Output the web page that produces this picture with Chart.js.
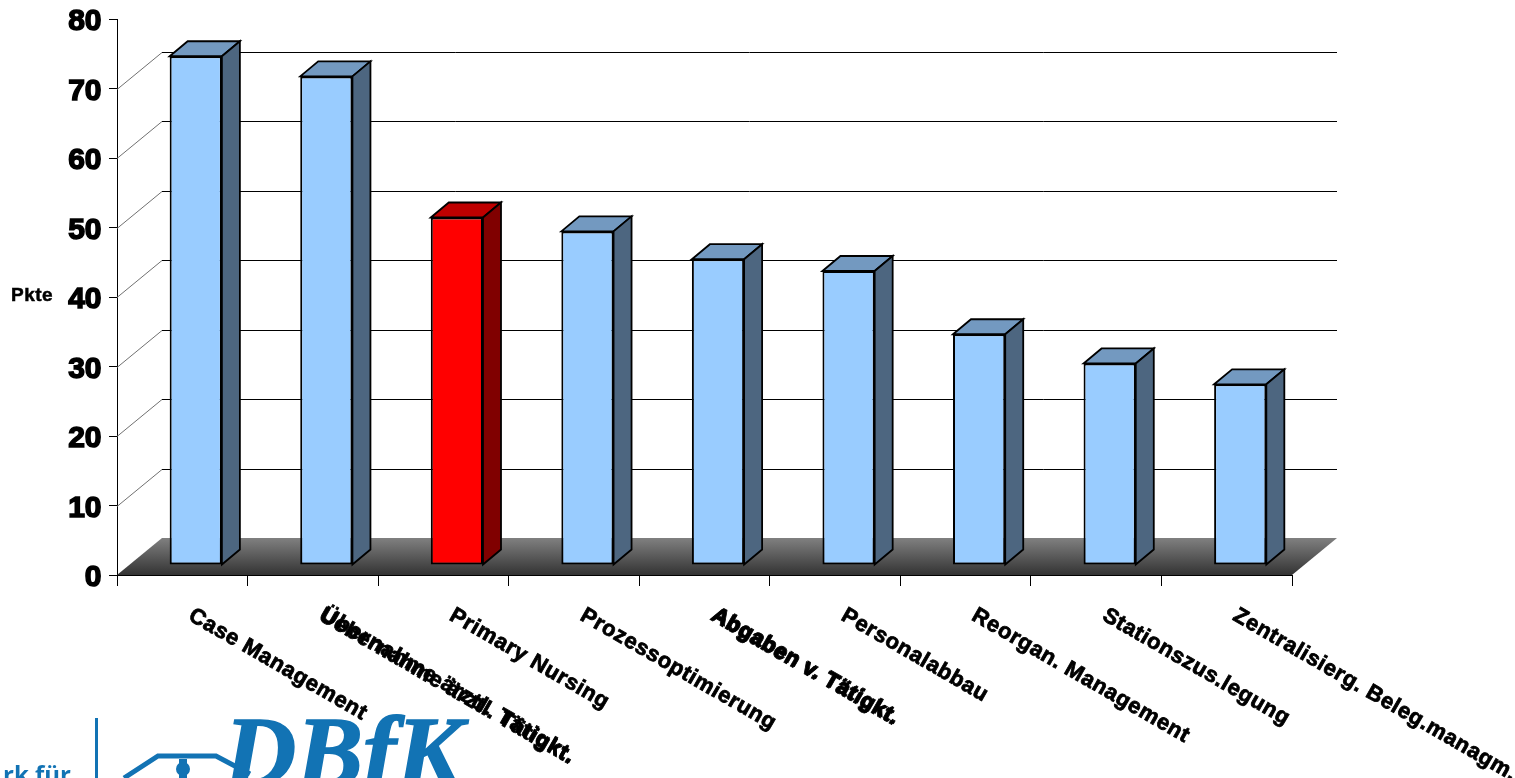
<!DOCTYPE html>
<html>
<head>
<meta charset="utf-8">
<title>Pkte</title>
<script src="https://cdn.jsdelivr.net/npm/chart.js@4"></script>
<style>
html,body{margin:0;padding:0;background:#fff;overflow:hidden;}
canvas{display:block;}
</style>
</head>
<body>
<canvas id="myChart" width="1515" height="778"></canvas>
<script>
const categories = ["Case Management","Uebernahme ärztl. Tätigkt.","Primary Nursing","Prozessoptimierung","Abgaben v. Tätigkt.","Personalabbau","Reorgan. Management","Stationszus.legung","Zentralisierg. Beleg.managm."];
// the second text printed on top of a label, as it is in the picture
const overprints = [null,"Übernahme ärztl. Tätigkt.",null,null,"Abgaben v. Tätigkt.",null,null,null,null];
const values = [73.2,70.3,50,48,44,42.3,33.2,29,26];
const frontColors = ["#99ccff","#99ccff","#ff0000","#99ccff","#99ccff","#99ccff","#99ccff","#99ccff","#99ccff"];
const topColors = ["#7399c0","#7399c0","#bf0000","#7399c0","#7399c0","#7399c0","#7399c0","#7399c0","#7399c0"];
const sideColors = ["#4d6680","#4d6680","#800000","#4d6680","#4d6680","#4d6680","#4d6680","#4d6680","#4d6680"];
const yMax = 80;
const yStep = 10;

const FONT = "'Liberation Sans', Arial, sans-serif";
const wall = {dx:45, dy:-37};   // back wall offset of the fake 3D box
const depth = {dx:18, dy:-15};  // depth of a bar
const barShift = {dx:13.5, dy:-10}; // bars stand in the middle of the floor

function poly(ctx, pts, fill, stroke, lw){
    ctx.beginPath();
    pts.forEach((p,i)=> i ? ctx.lineTo(p[0],p[1]) : ctx.moveTo(p[0],p[1]));
    ctx.closePath();
    if(fill){ ctx.fillStyle=fill; ctx.fill(); }
    if(stroke){ ctx.strokeStyle=stroke; ctx.lineWidth=lw; ctx.lineJoin='miter'; ctx.stroke(); }
}

const box3d = {
    id:'box3d',
    beforeDatasetsDraw(chart){
        const {ctx, scales:{y}, chartArea:a} = chart;
        ctx.save();
        // back wall lines
        for(let v=yStep; v<yMax; v+=yStep){
            const py=Math.round(y.getPixelForValue(v))+0.5;
            ctx.beginPath();
            ctx.strokeStyle='#707070';
            ctx.lineWidth=1;
            ctx.moveTo(a.left,py);
            ctx.lineTo(a.left+wall.dx,py+wall.dy);
            ctx.stroke();
            ctx.beginPath();
            ctx.strokeStyle='#000';
            ctx.moveTo(a.left+wall.dx,py+wall.dy);
            ctx.lineTo(a.right+wall.dx,py+wall.dy);
            ctx.stroke();
        }
        // floor
        const y0=y.getPixelForValue(0);
        const g=ctx.createLinearGradient(0,y0+wall.dy,0,y0);
        g.addColorStop(0,'#808080');
        g.addColorStop(1,'#333333');
        poly(ctx,[[a.left,y0],[a.left+wall.dx,y0+wall.dy],[a.right+wall.dx,y0+wall.dy],[a.right,y0]],g);
        ctx.restore();
    },
    beforeDatasetDraw(chart){
        const ctx=chart.ctx;
        ctx.save();
        ctx.translate(barShift.dx,barShift.dy);
    },
    afterDatasetDraw(chart,args){
        const ctx=chart.ctx;
        args.meta.data.forEach((bar,i)=>{
            const l=bar.x-bar.width/2, r=bar.x+bar.width/2, t=bar.y, b=bar.base;
            poly(ctx,[[l,t],[l+depth.dx,t+depth.dy],[r+depth.dx,t+depth.dy],[r,t]],topColors[i],'#000',1.8);
            poly(ctx,[[r,t],[r+depth.dx,t+depth.dy],[r+depth.dx,b+depth.dy],[r,b]],sideColors[i],'#000',1.8);
        });
        ctx.restore();
    },
    afterDraw(chart){
        const {ctx, scales:{x}, chartArea:a} = chart;
        ctx.save();
        // y axis unit
        ctx.fillStyle='#000';
        ctx.strokeStyle='#000';
        ctx.lineWidth=0.5;
        ctx.font='bold 19px '+FONT;
        ctx.letterSpacing='0.5px';
        ctx.textAlign='left';
        ctx.textBaseline='middle';
        ctx.fillText('Pkte',11,296);
        ctx.strokeText('Pkte',11,296);
        // category labels run down to the right, the scale can't anchor them at their start
        ctx.lineWidth=0.8;
        ctx.font='bold 22px '+FONT;
        categories.forEach((name,i)=>{
            ctx.save();
            ctx.letterSpacing='0.6px';
            const w=ctx.measureText(name).width;
            ctx.translate(x.getPixelForValue(i)+8,a.bottom+39);
            ctx.rotate(30*Math.PI/180);
            ctx.fillText(name,0,0);
            ctx.strokeText(name,0,0);
            if(overprints[i]){
                // stretched to the same length as the text underneath
                const w2=ctx.measureText(overprints[i]).width;
                ctx.letterSpacing=(0.6+(w-w2)/overprints[i].length)+'px';
                ctx.fillText(overprints[i],1,-1.5);
                ctx.strokeText(overprints[i],1,-1.5);
            }
            ctx.restore();
        });
        ctx.letterSpacing='0px';
        // logo, cut by the bottom of the slide
        const blue='#1273b4';
        ctx.fillStyle=blue;
        ctx.strokeStyle=blue;
        ctx.textBaseline='alphabetic';
        ctx.font="bold 24px 'Open Sans', sans-serif";
        ctx.textAlign='right';
        ctx.fillText('rk für',71,783);
        ctx.fillRect(95,718,3,60);
        ctx.lineWidth=5;
        ctx.beginPath();
        ctx.moveTo(124,778);
        ctx.lineTo(158,756);
        ctx.lineTo(216,756);
        ctx.lineTo(250,774);
        ctx.stroke();
        ctx.beginPath();
        ctx.arc(183,769,7,0,Math.PI*2);
        ctx.fill();
        ctx.fillRect(179,759,8,19);
        ctx.font="italic bold 100px 'Liberation Serif', serif";
        ctx.textAlign='left';
        ctx.lineWidth=1.5;
        ctx.fillText('DBfK',224,785);
        ctx.strokeText('DBfK',224,785);
        ctx.restore();
    }
};

const chart = new Chart(document.getElementById('myChart').getContext('2d'),{
    type:'bar',
    data:{
        labels:categories,
        datasets:[{
            label:'Pkte',
            data:values,
            backgroundColor:frontColors,
            borderColor:'#000',
            borderWidth:2,
            borderSkipped:false,
            barPercentage:0.4,
            categoryPercentage:1
        }]
    },
    options:{
        responsive:false,
        animation:false,
        devicePixelRatio:1,
        layout:{padding:{top:19,right:223,bottom:0,left:0}},
        plugins:{legend:{display:false},tooltip:{enabled:false}},
        scales:{
            x:{
                grid:{drawOnChartArea:false,color:'#000',tickLength:11,offset:true},
                border:{color:'#000'},
                ticks:{display:false},
                afterFit(scale){ scale.height=203; }
            },
            y:{
                min:0,
                max:yMax,
                grid:{drawOnChartArea:false,color:'#000',tickLength:8},
                border:{color:'#000'},
                ticks:{
                    stepSize:yStep,
                    color:'#000',
                    padding:7.5,
                    // empty first line pushes the number a little below its tick
                    callback:v=>['',String(v)],
                    font:{family:FONT,size:30,weight:'bold',lineHeight:'6px'},
                    textStrokeColor:'#000',
                    textStrokeWidth:1.5
                },
                afterFit(scale){
                    scale.width=117;
                    scale.paddingTop=0;
                    scale.paddingBottom=0;
                }
            }
        }
    },
    plugins:[box3d]
});
</script>
</body>
</html>
